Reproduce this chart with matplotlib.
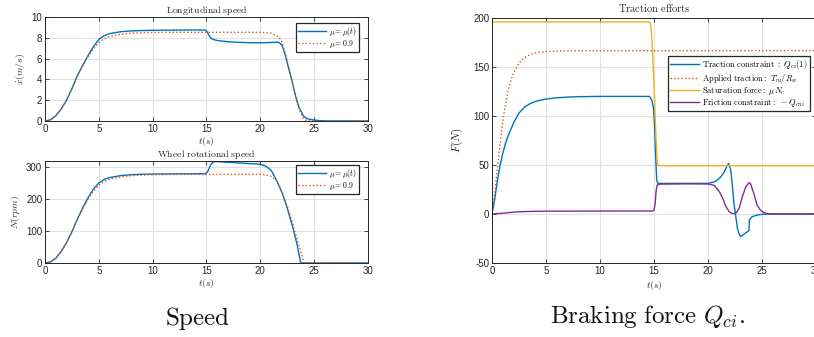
import matplotlib
matplotlib.use("Agg")
import matplotlib.pyplot as plt

plt.rcParams['font.family'] = ['Liberation Sans', 'DejaVu Sans']
plt.rcParams['mathtext.fontset'] = 'cm'
plt.rcParams['axes.unicode_minus'] = False

BLUE = '#0072BD'
ORANGE = '#D95319'
YELLOW = '#EDB120'
PURPLE = '#7E2F8E'
DARK = '#262626'
DOT = (0, (1, 1.6))

# ---------------- data: longitudinal speed ----------------
t_lon = [0, 0.5, 1, 1.5, 2, 2.5, 3, 3.5, 4, 4.5, 5, 5.5, 6, 7, 8, 9, 10, 12, 14, 14.8,
         15, 15.2, 15.4, 15.7, 16, 17, 18, 19, 20, 21, 21.7, 22, 22.3, 22.6, 23, 23.3,
         23.6, 24, 24.3, 24.7, 25, 25.5, 26, 30]
v_mu_t = [0, 0.1, 0.5, 1.15, 2.0, 3.1, 4.35, 5.35, 6.3, 7.15, 7.85, 8.2, 8.4, 8.58, 8.66, 8.7, 8.72, 8.74, 8.75, 8.75,
          8.68, 8.3, 7.97, 7.82, 7.74, 7.62, 7.56, 7.53, 7.52, 7.55, 7.58, 7.3, 6.4, 5.2, 3.6, 2.3,
          1.3, 0.5, 0.25, 0.14, 0.09, 0.04, 0.01, 0]
v_mu_09 = [0, 0.1, 0.5, 1.15, 2.0, 3.1, 4.3, 5.3, 6.2, 6.95, 7.55, 7.9, 8.1, 8.33, 8.44, 8.49, 8.51, 8.53, 8.53, 8.53,
           8.53, 8.53, 8.53, 8.53, 8.53, 8.53, 8.53, 8.53, 8.52, 8.45, 8.1, 7.6, 6.6, 5.3, 3.6, 2.25,
           1.15, 0.25, 0.02, 0, 0, 0, 0, 0]

# ---------------- data: wheel rotational speed ----------------
t_rot = [0, 0.5, 1, 1.5, 2, 2.5, 3, 3.5, 4, 4.5, 5, 5.5, 6, 7, 8, 9, 10, 12, 14, 14.9,
         15.1, 15.3, 15.5, 15.7, 16, 17, 18, 19, 20, 20.5, 21, 21.5, 22, 22.5, 23, 23.4,
         23.75, 24.05, 25, 30]
n_mu_t = [0, 3, 15, 36, 64, 98, 137, 173, 205, 232, 251, 262, 268, 274, 277, 278.5, 279, 279.5, 280, 280,
          286, 302, 313, 318, 318, 316, 314, 312, 310, 304, 291, 260, 222, 172, 113, 60,
          0, 0, 0, 0]
n_mu_09 = [0, 3, 15, 36, 64, 98, 136, 171, 201, 226, 244, 256, 263, 270, 274, 276, 277, 278, 278, 278,
           278, 278, 278, 278, 278, 278, 278, 278, 278, 277, 272, 258, 225, 178, 125, 75,
           38, 0, 0, 0]

# ---------------- data: traction efforts ----------------
t_applied = [0, 0.25, 0.5, 0.75, 1, 1.25, 1.5, 1.75, 2, 2.5, 3, 3.5, 4, 5, 6, 7, 8, 30]
f_applied = [0, 22, 47, 72, 95, 112, 126, 136, 144, 154, 159.5, 162.5, 164.3, 165.7, 166.2, 166.5, 166.6, 166.7]

t_sat = [0, 14.6, 14.7, 14.8, 14.9, 15.0, 15.1, 15.2, 15.3, 15.4, 30]
f_sat = [196, 196, 193, 180, 158, 131, 102, 74, 53, 49.3, 49.3]

t_traction = [0, 0.25, 0.5, 0.75, 1, 1.25, 1.5, 2, 2.5, 3, 3.5, 4, 5, 6, 7, 8, 10, 14.6,
              14.8, 14.95, 15.05, 15.15, 15.25, 15.35, 15.5, 18, 20, 20.5, 20.8, 21.2, 21.5,
              21.8, 21.9, 22.1, 22.27, 22.4, 22.58, 22.73, 22.9, 23.03, 23.33, 23.8, 23.83,
              24.1, 24.55, 25, 25.5, 30]
f_traction = [0, 15, 34, 50, 62, 72, 80, 93, 103, 109, 112.5, 114.8, 117.3, 118.6, 119.3, 119.7, 120, 120,
              116, 108, 90, 60, 35, 31.5, 31.2, 31.2, 31.3, 32.5, 34, 38, 43,
              50, 51.5, 45, 28, 11, -3, -15, -21, -23, -20.5, -17, -6,
              -2.7, -1, -0.4, -0.1, 0]

t_friction = [0, 1, 2, 3, 5, 14.9, 15.0, 15.1, 15.2, 15.3, 15.5, 18, 20, 20.3, 20.6, 21.06,
              21.36, 21.67, 21.97, 22.27, 22.58, 22.88, 23.18, 23.5, 23.8, 23.94, 24.24,
              24.55, 24.85, 25.15, 25.6, 26.5, 30]
f_friction = [0, 0.8, 1.9, 2.5, 2.9, 3.1, 4, 10, 24, 29.5, 30.5, 30.8, 30.6, 30, 29, 22.7,
              16, 7.4, 2.4, 0.3, 0.7, 5.8, 17.6, 27.7, 32, 31, 21,
              9, 4, 1.4, 0.3, 0.05, 0]

x_ticks = [0, 5, 10, 15, 20, 25, 30]
lon_yticks = [0, 2, 4, 6, 8, 10]
rot_yticks = [0, 100, 200, 300]
force_yticks = [-50, 0, 50, 100, 150, 200]

W, H = 814, 337
fig = plt.figure(figsize=(W / 100, H / 100), dpi=100)


def style(ax):
    ax.grid(True, color='#e2e2e2', lw=0.8)
    ax.set_axisbelow(True)
    ax.tick_params(direction='in', length=3, width=0.6, top=True, right=True,
                   labelsize=7, colors=DARK, pad=2)
    for s in ax.spines.values():
        s.set_color(DARK)
        s.set_linewidth(0.7)


def legend(ax, anchor, fs, hl):
    lg = ax.legend(loc='upper right', bbox_to_anchor=anchor, borderaxespad=0,
                   fontsize=fs, frameon=True, fancybox=False, framealpha=1,
                   edgecolor=DARK, handlelength=hl, handletextpad=0.4,
                   labelspacing=0.05, borderpad=0.25)
    lg.get_frame().set_linewidth(0.9)
    return lg


# ---- top-left ----
ax1 = fig.add_axes([45 / W, 1 - 121 / H, 323 / W, 104 / H])
ax1.plot(t_lon, v_mu_t, color=BLUE, lw=1.0, label=r'$\mu = \mu(t)$')
ax1.plot(t_lon, v_mu_09, color=ORANGE, lw=1.0, ls=DOT, label=r'$\mu = 0.9$')
ax1.set_xlim(0, 30)
ax1.set_ylim(0, 10)
ax1.set_xticks(x_ticks)
ax1.set_yticks(lon_yticks)
style(ax1)
ax1.set_title(r'$\mathrm{Longitudinal\ speed}$', fontsize=7, pad=3, color=DARK)
ax1.set_xlabel(r'$t(s)$', fontsize=7, labelpad=1, color=DARK)
ax1.set_ylabel(r'$\dot{x}(m/s)$', fontsize=7, labelpad=3, color=DARK)
legend(ax1, (0.972, 0.945), 5.5, 3.7)

# ---- bottom-left ----
ax2 = fig.add_axes([45 / W, 1 - 263 / H, 323 / W, 102 / H])
ax2.plot(t_rot, n_mu_t, color=BLUE, lw=1.0, label=r'$\mu = \mu(t)$')
ax2.plot(t_rot, n_mu_09, color=ORANGE, lw=1.0, ls=DOT, label=r'$\mu = 0.9$')
ax2.set_xlim(0, 30)
ax2.set_ylim(0, 320)
ax2.set_xticks(x_ticks)
ax2.set_yticks(rot_yticks)
style(ax2)
ax2.set_title(r'$\mathrm{Wheel\ rotational\ speed}$', fontsize=7, pad=3, color=DARK)
ax2.set_xlabel(r'$t(s)$', fontsize=7, labelpad=1, color=DARK)
ax2.set_ylabel(r'$N(rpm)$', fontsize=7, labelpad=3, color=DARK)
legend(ax2, (0.972, 0.962), 5.5, 3.7)

# ---- right ----
ax3 = fig.add_axes([492 / W, 1 - 263 / H, 324 / W, 245 / H])
ax3.plot(t_traction, f_traction, color=BLUE, lw=1.0,
         label=r'$\mathrm{Traction\ constraint\ :}\ Q_{ci}(1)$')
ax3.plot(t_applied, f_applied, color=ORANGE, lw=1.0, ls=DOT,
         label=r'$\mathrm{Applied\ traction:}\ T_m/R_w$')
ax3.plot(t_sat, f_sat, color=YELLOW, lw=1.0,
         label=r'$\mathrm{Saturation\ force:}\ \mu N_c$')
ax3.plot(t_friction, f_friction, color=PURPLE, lw=1.0,
         label=r'$\mathrm{Friction\ constraint:}\ -Q_{cni}$')
ax3.set_xlim(0, 30)
ax3.set_ylim(-50, 200)
ax3.set_xticks(x_ticks)
ax3.set_yticks(force_yticks)
style(ax3)
ax3.set_title(r'$\mathrm{Traction\ efforts}$', fontsize=7.5, pad=4, color=DARK)
ax3.set_xlabel(r'$t(s)$', fontsize=7, labelpad=2, color=DARK)
ax3.set_ylabel(r'$F(N)$', fontsize=8, labelpad=6, color=DARK)
legend(ax3, (0.981, 0.845), 6.1, 3.4)

# ---- captions ----
fig.text(198 / W, 1 - 318 / H, r'$\mathrm{Speed}$', fontsize=18,
         ha='center', va='center', color='#111111')
fig.text(647 / W, 1 - 317 / H, r'$\mathrm{Braking\ force}\ Q_{ci}.$', fontsize=18,
         ha='center', va='center', color='#111111')

fig.savefig('out.png', dpi=100)
